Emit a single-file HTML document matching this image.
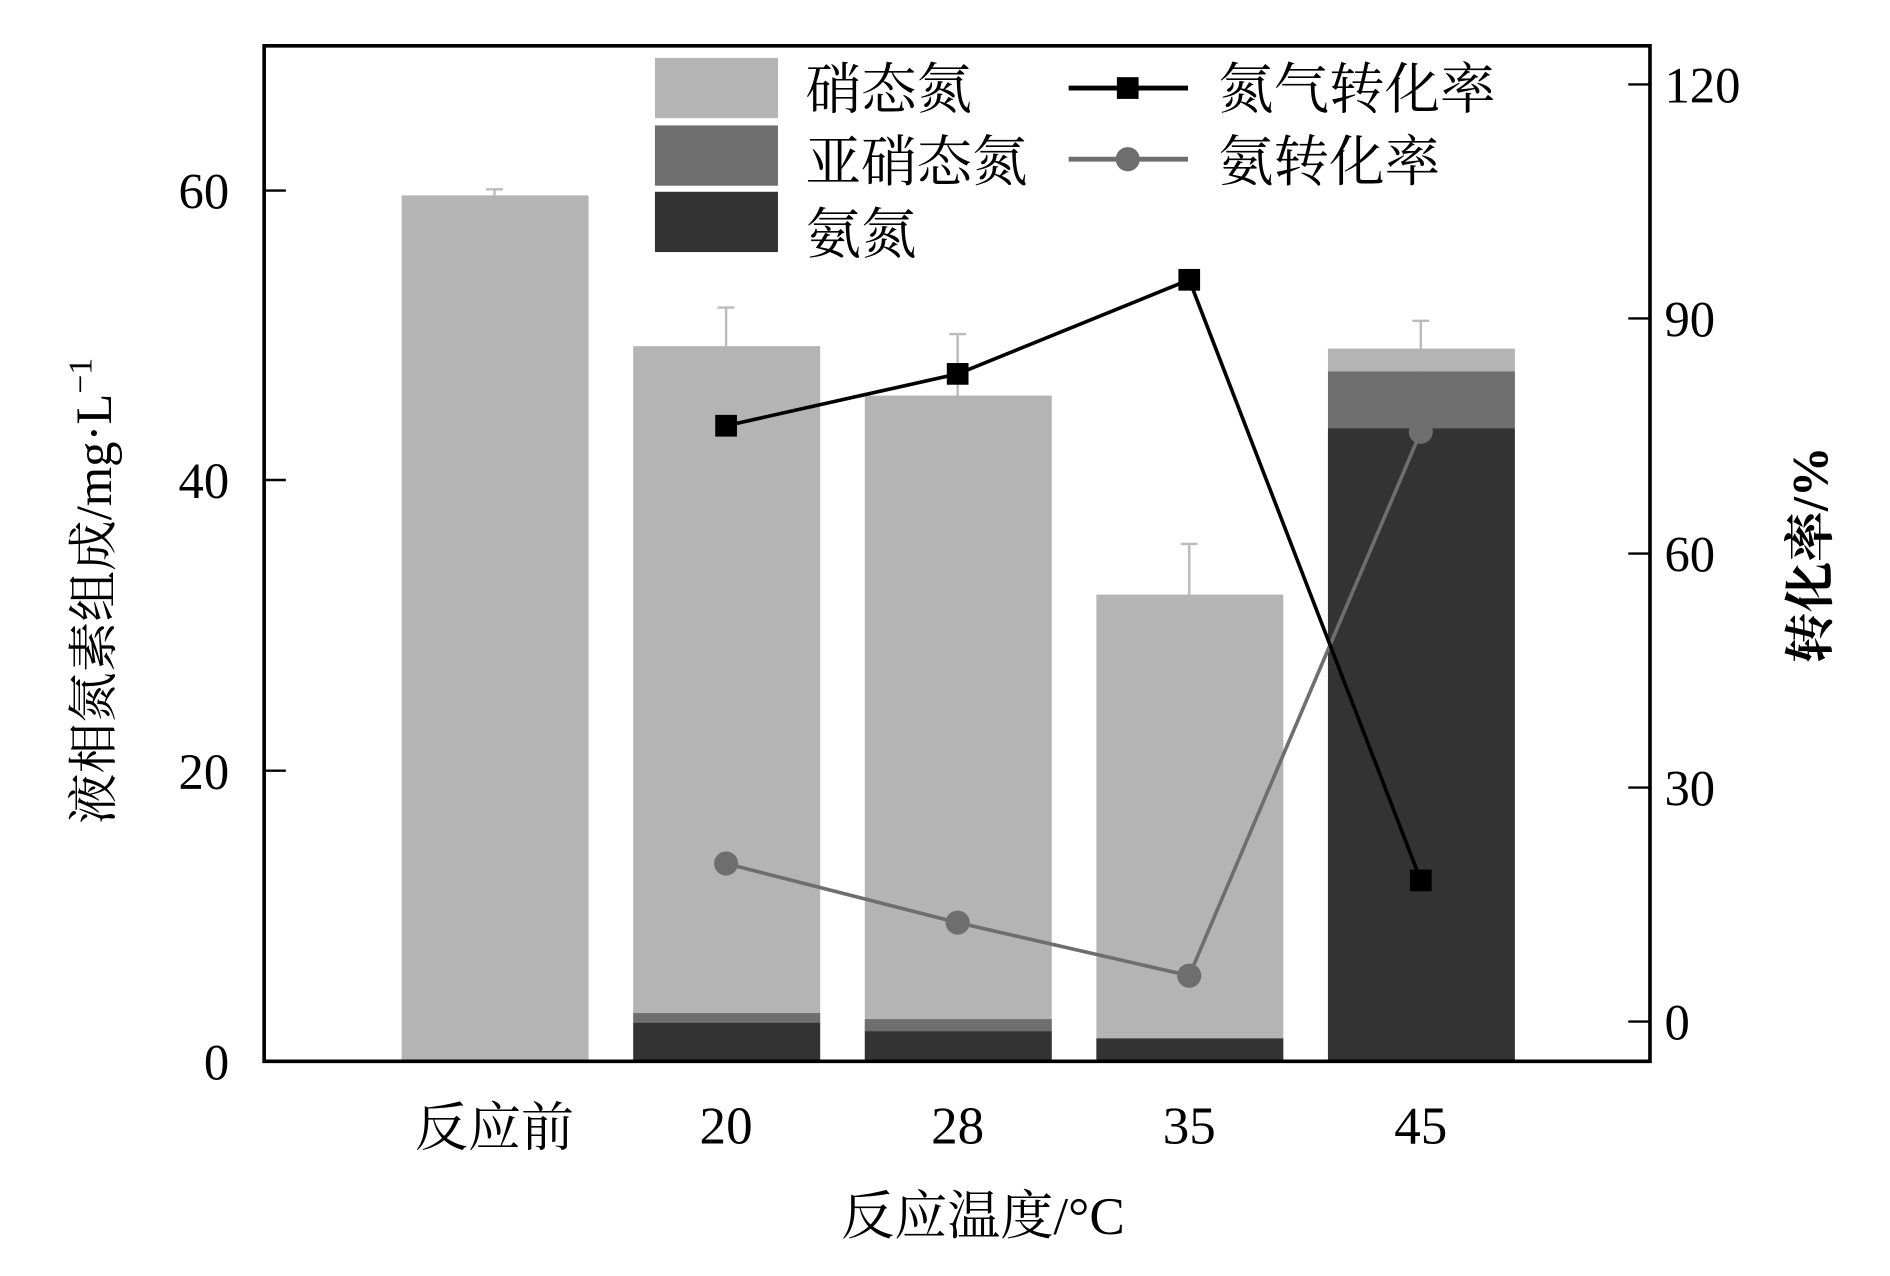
<!DOCTYPE html>
<html><head><meta charset="utf-8"><style>
html,body{margin:0;padding:0;background:#fff;}
svg{display:block;}
text{font-family:"Liberation Serif","Noto Serif CJK SC",serif;fill:#000;}
</style></head><body>
<svg width="1890" height="1276" viewBox="0 0 1567 1058" preserveAspectRatio="none" xmlns="http://www.w3.org/2000/svg">
<rect width="1567" height="1058" fill="#fff"/>
<g stroke="#bbb" stroke-width="2" fill="none">
<path d="M410 162V157M403 157H417"/>
<path d="M602 287V255M595 255H609"/>
<path d="M794 328V277M787 277H801"/>
<path d="M986 493V451M979 451H993"/>
<path d="M1178 310V266M1171 266H1185"/>
</g>
<rect x="333" y="162" width="155" height="718" fill="#b4b4b4"/>
<rect x="525" y="287" width="155" height="593" fill="#b4b4b4"/>
<rect x="525" y="840" width="155" height="8" fill="#6e6e6e"/>
<rect x="525" y="848" width="155" height="32" fill="#333"/>
<rect x="717" y="328" width="155" height="552" fill="#b4b4b4"/>
<rect x="717" y="845" width="155" height="10" fill="#6e6e6e"/>
<rect x="717" y="855" width="155" height="25" fill="#333"/>
<rect x="909" y="493" width="155" height="387" fill="#b4b4b4"/>
<rect x="909" y="861" width="155" height="19" fill="#333"/>
<rect x="1101" y="289" width="155" height="19" fill="#b4b4b4"/>
<rect x="1101" y="308" width="155" height="47" fill="#6e6e6e"/>
<rect x="1101" y="355" width="155" height="525" fill="#333"/>
<polyline points="602,716 794,765 986,809 1178,358" fill="none" stroke="#6e6e6e" stroke-width="3"/>
<g fill="#6e6e6e"><circle cx="602" cy="716" r="10"/><circle cx="794" cy="765" r="10"/><circle cx="986" cy="809" r="10"/><circle cx="1178" cy="358" r="10"/></g>
<polyline points="602,353 794,310 986,232 1178,730" fill="none" stroke="#000" stroke-width="3"/>
<g fill="#000"><rect x="593" y="344" width="18" height="18"/><rect x="785" y="301" width="18" height="18"/><rect x="977" y="223" width="18" height="18"/><rect x="1169" y="721" width="18" height="18"/></g>
<rect x="219" y="38" width="1149" height="842" fill="none" stroke="#000" stroke-width="3"/>
<g stroke="#000" stroke-width="2">
<path d="M219 880H237M219 639H237M219 398H237M219 158H237"/>
<path d="M1350 847H1368M1350 653H1368M1350 459H1368M1350 264H1368M1350 70H1368"/>
</g>
<g font-size="42" text-anchor="end">
<text x="190" y="895">0</text><text x="190" y="654">20</text><text x="190" y="413">40</text><text x="190" y="173">60</text>
</g>
<g font-size="42">
<text x="1380" y="862">0</text><text x="1380" y="668">30</text><text x="1380" y="474">60</text><text x="1380" y="279">90</text><text x="1380" y="85">120</text>
</g>
<g font-size="44" text-anchor="middle">
<text x="410" y="950">反应前</text><text x="602" y="948">20</text><text x="794" y="948">28</text><text x="986" y="948">35</text><text x="1178" y="948">45</text>
<text x="815" y="1023">反应温度/°C</text>
</g>
<text transform="translate(92,490) rotate(-90)" font-size="42" text-anchor="middle">液相氮素组成/mg·L<tspan font-size="28" dy="-16">−1</tspan></text>
<text transform="translate(1515,460) rotate(-90)" font-size="42" font-weight="bold" text-anchor="middle">转化率/%</text>
<rect x="543" y="48" width="102" height="50" fill="#b4b4b4"/>
<rect x="543" y="104" width="102" height="50" fill="#6e6e6e"/>
<rect x="543" y="159" width="102" height="50" fill="#333"/>
<g font-size="46">
<text x="668" y="90">硝态氮</text><text x="668" y="150">亚硝态氮</text><text x="668" y="210">氨氮</text>
<text x="1010" y="90">氮气转化率</text><text x="1010" y="150">氨转化率</text>
</g>
<path d="M886 73H985" stroke="#000" stroke-width="4"/><rect x="926" y="64" width="18" height="18" fill="#000"/>
<path d="M886 132H985" stroke="#6e6e6e" stroke-width="4"/><circle cx="935" cy="132" r="10" fill="#6e6e6e"/>
</svg>
</body></html>
